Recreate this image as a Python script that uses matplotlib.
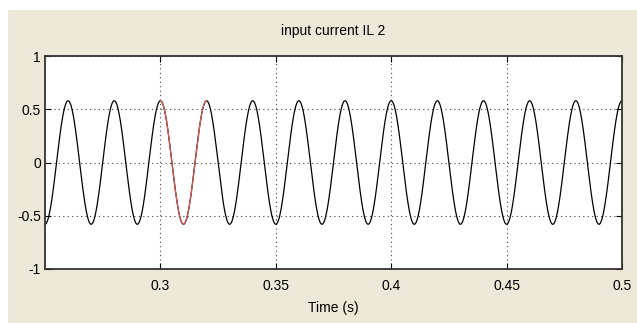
import matplotlib
matplotlib.use('Agg')
import matplotlib.pyplot as plt
import numpy
from matplotlib.patches import Rectangle

# signal: 50 Hz, peak 0.58, a crest at t = 0.30 s
amplitude = 0.58
freq_hz = 50.0
crest_time = 0.30
t_start, t_end = 0.25, 0.5
# highlighted cycle (red)
red_start, red_end = 0.30, 0.32

x_ticks = [0.3, 0.35, 0.4, 0.45, 0.5]
x_labels = ['0.3', '0.35', '0.4', '0.45', '0.5']
y_ticks = [-1, -0.5, 0, 0.5, 1]
y_labels = ['-1', '-0.5', '0', '0.5', '1']

plt.rcParams['font.family'] = ['Liberation Sans Narrow', 'Liberation Sans', 'DejaVu Sans']

t = numpy.linspace(t_start, t_end, 4000)
i_l = amplitude*numpy.cos(2*numpy.pi*freq_hz*(t - crest_time))
tr = numpy.linspace(red_start, red_end, 400)
i_r = amplitude*numpy.cos(2*numpy.pi*freq_hz*(tr - crest_time))

fig = plt.figure(figsize=(6.37, 3.23), dpi=100, facecolor='white')
fig.patches.append(Rectangle((8/637, 0), 1, 1 - 10/323, transform=fig.transFigure,
                             facecolor='#ece9d8', edgecolor='none', zorder=-10))
ax = fig.add_axes([45/637, 54/323, 577/637, 213/323])
ax.plot(t, i_l, color='black', lw=0.9)
ax.plot(tr, i_r, color='#dc5a5a', lw=0.9)

ax.set_xlim(t_start, t_end)
ax.set_ylim(-1, 1)
ax.set_xticks(x_ticks)
ax.set_xticklabels(x_labels)
ax.set_yticks(y_ticks)
ax.set_yticklabels(y_labels)
ax.grid(True, linestyle=(0, (1, 3)), color='#444444', lw=0.8)
ax.tick_params(direction='in', length=4, top=True, right=True, labelsize=10)
ax.tick_params(axis='y', pad=3)
ax.tick_params(axis='x', pad=7)
for s in ax.spines.values():
    s.set_linewidth(1.3)
    s.set_color('#333333')
ax.set_title('input current IL 2', fontsize=10, pad=15)
ax.set_xlabel('Time (s)', fontsize=10, labelpad=6)

fig.savefig('out.png', dpi=100, facecolor=fig.get_facecolor())
